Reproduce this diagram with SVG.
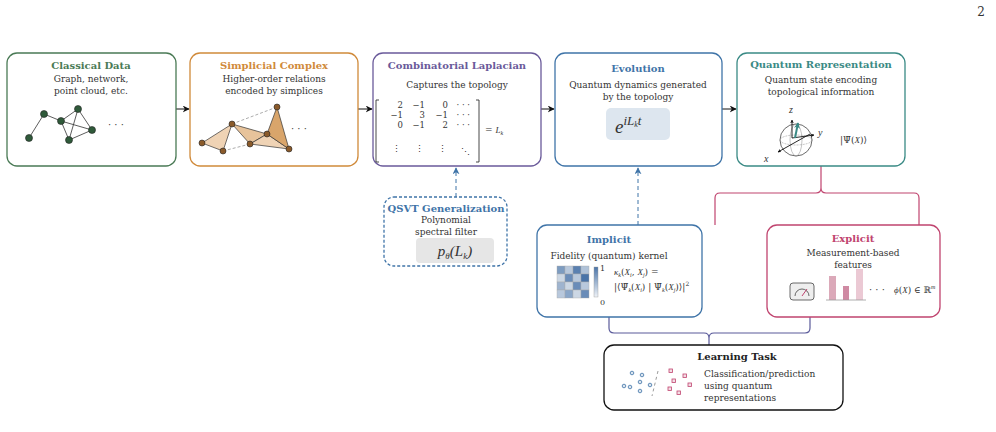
<svg xmlns="http://www.w3.org/2000/svg" width="996" height="432" viewBox="0 0 996 432">
<style>
text{font-family:"DejaVu Serif","Liberation Serif",serif;fill:#333}
.t{font-weight:bold;font-size:10px;text-anchor:middle}
.b{font-size:9px;text-anchor:middle}
.m{font-family:"Liberation Serif",serif;font-style:italic}
.box{fill:#fff;stroke-width:1.3}
</style>
<defs>
<marker id="ar" viewBox="0 0 10 10" refX="9" refY="5" markerWidth="7" markerHeight="7" orient="auto"><path d="M0,0L10,5L0,10L3,5z" fill="#111"/></marker>
<marker id="as" viewBox="0 0 10 10" refX="9" refY="5" markerWidth="4" markerHeight="4" orient="auto"><path d="M0,0L10,5L0,10L3,5z" fill="#111"/></marker>
<marker id="at" viewBox="0 0 10 10" refX="9" refY="5" markerWidth="3" markerHeight="3" orient="auto"><path d="M0,0L10,5L0,10L3,5z" fill="#3a8a85"/></marker>
<marker id="ab" viewBox="0 0 10 10" refX="9" refY="5" markerWidth="7" markerHeight="7" orient="auto"><path d="M0,0L10,5L0,10L3,5z" fill="#3f74a8"/></marker>
<linearGradient id="cb" x1="0" y1="0" x2="0" y2="1"><stop offset="0" stop-color="#4a74a8"/><stop offset="1" stop-color="#eef2f7"/></linearGradient>
</defs>
<text x="985" y="16" style="font-size:12px" text-anchor="end">2</text>
<g id="connectors" fill="none">
<line x1="176" y1="109" x2="189" y2="109" stroke="#111" marker-end="url(#ar)"/>
<line x1="358" y1="109" x2="372" y2="109" stroke="#111" marker-end="url(#ar)"/>
<line x1="541" y1="109" x2="554" y2="109" stroke="#111" marker-end="url(#ar)"/>
<line x1="722" y1="109" x2="736" y2="109" stroke="#111" marker-end="url(#ar)"/>
<line x1="456" y1="197" x2="456" y2="168" stroke="#3f74a8" stroke-dasharray="4,3" marker-end="url(#ab)"/>
<line x1="638" y1="225" x2="638" y2="168" stroke="#3f74a8" stroke-dasharray="4,3" marker-end="url(#ab)"/>
<path d="M821,166V188q0,5 -5,5H720q-5,0 -5,5V225M821,188q0,5 5,5H914q5,0 5,5V225" stroke="#c0446f" stroke-width="1.2"/>
<path d="M609,317V328q0,5 5,5H704q5,0 5,5V345M709,338q0,-5 5,-5H805q5,0 5,-5V317" stroke="#5a5a9a" stroke-width="1.2"/>
</g>
<g id="classical">
<rect class="box" x="7" y="53" width="169" height="113" rx="10" stroke="#4a7a55"/>
<text class="t" x="91" y="69" style="fill:#4a7a55">Classical Data</text>
<text class="b" x="91" y="82">Graph, network,</text>
<text class="b" x="91" y="94">point cloud, etc.</text>
<path d="M29,138L44,114L61,121L78,109L92,130L69,140L61,121L92,130M78,109L69,140" fill="none" stroke="#333" stroke-width="0.8"/>
<g fill="#2f5a3a" stroke="#222" stroke-width="0.6"><circle cx="29" cy="138" r="3.5"/><circle cx="44" cy="114" r="3.5"/><circle cx="61" cy="121" r="3.5"/><circle cx="78" cy="109" r="3.5"/><circle cx="92" cy="130" r="3.5"/><circle cx="69" cy="140" r="3.5"/></g>
<text x="108" y="128" style="font-size:10px">· · ·</text>
</g>
<g id="simplicial">
<rect class="box" x="190" y="53" width="168" height="113" rx="10" stroke="#d08a3a"/>
<text class="t" x="274" y="69" style="fill:#d08a3a">Simplicial Complex</text>
<text class="b" x="274" y="82">Higher-order relations</text>
<text class="b" x="274" y="94">encoded by simplices</text>
<path d="M202,143L232,124L223,151z" fill="#efd3b5" stroke="#333" stroke-width="0.7"/>
<path d="M232,124L267,134L250,144z" fill="#e7c39b" stroke="#333" stroke-width="0.7"/>
<path d="M250,144L267,134L289,149z" fill="#efd3b5" stroke="#333" stroke-width="0.7"/>
<path d="M267,134L277,107L289,149z" fill="#d9a56b" stroke="#333" stroke-width="0.7"/>
<path d="M232,124L277,107M223,151L250,144" stroke="#888" stroke-dasharray="3,2" stroke-width="0.7" fill="none"/>
<g fill="#8a5a2a" stroke="#222" stroke-width="0.6"><circle cx="202" cy="143" r="3"/><circle cx="232" cy="124" r="3"/><circle cx="223" cy="151" r="3"/><circle cx="250" cy="144" r="3"/><circle cx="267" cy="134" r="3"/><circle cx="277" cy="107" r="3"/><circle cx="289" cy="149" r="3"/></g>
<text x="291" y="132" style="font-size:10px">· · ·</text>
</g>
<g id="laplacian">
<rect class="box" x="373" y="53" width="168" height="113" rx="10" stroke="#6a5a9a"/>
<text class="t" x="457" y="69" style="fill:#6a5a9a">Combinatorial Laplacian</text>
<text class="b" x="457" y="88">Captures the topology</text>
<path d="M379,100h-3v62h3M476,100h3v62h-3" fill="none" stroke="#333" stroke-width="0.9"/>
<g style="font-size:8.5px" text-anchor="end">
<text x="403" y="108">2</text><text x="425" y="108">−1</text><text x="448" y="108">0</text><text x="470" y="108">· · ·</text>
<text x="403" y="118">−1</text><text x="425" y="118">3</text><text x="448" y="118">−1</text><text x="470" y="118">· · ·</text>
<text x="403" y="128">0</text><text x="425" y="128">−1</text><text x="448" y="128">2</text><text x="470" y="128">· · ·</text>
<text x="401" y="152">⋮</text><text x="424" y="152">⋮</text><text x="447" y="152">⋮</text><text x="470" y="155">⋱</text>
</g>
<text x="485" y="133" style="font-size:9px">= <tspan class="m">L</tspan><tspan class="m" style="font-size:6px" dy="2">k</tspan></text>
</g>
<g id="evolution">
<rect class="box" x="555" y="53" width="167" height="113" rx="10" stroke="#3f74a8"/>
<text class="t" x="638" y="72" style="fill:#3f74a8">Evolution</text>
<text class="b" x="638" y="88">Quantum dynamics generated</text>
<text class="b" x="638" y="100">by the topology</text>
<rect x="606" y="108" width="64" height="32" rx="5" fill="#dde6ef"/>
<text x="615" y="133" class="m" style="font-size:19px">e<tspan style="font-size:13px" dy="-8">iL</tspan><tspan style="font-size:8px" dy="2">k</tspan><tspan style="font-size:13px" dy="-2">t</tspan></text>
</g>
<g id="quantum">
<rect class="box" x="737" y="53" width="168" height="113" rx="10" stroke="#3a8a85"/>
<text class="t" x="821" y="68" style="fill:#3a8a85">Quantum Representation</text>
<text class="b" x="821" y="83">Quantum state encoding</text>
<text class="b" x="821" y="95">topological information</text>
<circle cx="796" cy="140" r="16" fill="none" stroke="#444" stroke-width="0.8"/>
<ellipse cx="796" cy="140" rx="16" ry="5" fill="none" stroke="#888" stroke-width="0.5" stroke-dasharray="2,1"/>
<ellipse cx="796" cy="140" rx="6" ry="16" fill="none" stroke="#888" stroke-width="0.5"/>
<g stroke="#111" stroke-width="0.9" fill="none"><line x1="792" y1="138" x2="792" y2="120" marker-end="url(#as)"/><line x1="792" y1="138" x2="814" y2="135" marker-end="url(#as)"/><line x1="810" y1="134" x2="778" y2="152" marker-end="url(#as)"/></g>
<line x1="795" y1="138" x2="798" y2="123" stroke="#3a8a85" stroke-width="2" marker-end="url(#at)"/>
<text x="789" y="113" class="m" style="font-size:10px">z</text>
<text x="818" y="136" class="m" style="font-size:10px">y</text>
<text x="764" y="162" class="m" style="font-size:10px">x</text>
<text x="840" y="143" style="font-size:9px">|Ψ̄(<tspan class="m">X</tspan>)⟩</text>
</g>
<g id="qsvt">
<rect class="box" x="384" y="197" width="123" height="69" rx="10" stroke="#3f74a8" stroke-dasharray="3,2"/>
<text class="t" x="446" y="212" style="fill:#3f74a8">QSVT Generalization</text>
<text class="b" x="446" y="223">Polynomial</text>
<text class="b" x="446" y="235">spectral filter</text>
<rect x="416" y="238" width="78" height="25" rx="4" fill="#e6e6e6"/>
<text x="455" y="256" text-anchor="middle" class="m" style="font-size:15px">p<tspan style="font-size:9px" dy="3">θ</tspan><tspan dy="-3">(L</tspan><tspan style="font-size:9px" dy="3">k</tspan><tspan dy="-3">)</tspan></text>
</g>
<g id="implicit">
<rect class="box" x="537" y="225" width="165" height="92" rx="10" stroke="#3f74a8"/>
<text class="t" x="609" y="243" style="fill:#3f74a8">Implicit</text>
<text class="b" x="609" y="259">Fidelity (quantum) kernel</text>
<g stroke="#aaa" stroke-width="0.4">
<rect x="557" y="266" width="8" height="8" fill="#7d9cc0"/><rect x="565" y="266" width="8" height="8" fill="#b8c8dc"/><rect x="573" y="266" width="8" height="8" fill="#5a80b0"/><rect x="581" y="266" width="8" height="8" fill="#b0c2d8"/>
<rect x="557" y="274" width="8" height="8" fill="#ccd7e4"/><rect x="565" y="274" width="8" height="8" fill="#6a8cb8"/><rect x="573" y="274" width="8" height="8" fill="#b8c8dc"/><rect x="581" y="274" width="8" height="8" fill="#4a74a8"/>
<rect x="557" y="282" width="8" height="8" fill="#9fb4cf"/><rect x="565" y="282" width="8" height="8" fill="#ccd7e4"/><rect x="573" y="282" width="8" height="8" fill="#6a8cb8"/><rect x="581" y="282" width="8" height="8" fill="#b8c8dc"/>
<rect x="557" y="290" width="8" height="8" fill="#b8c8dc"/><rect x="565" y="290" width="8" height="8" fill="#8aa6c8"/><rect x="573" y="290" width="8" height="8" fill="#ccd7e4"/><rect x="581" y="290" width="8" height="8" fill="#6a8cb8"/>
</g>
<rect x="594" y="267" width="4" height="30" fill="url(#cb)" stroke="#999" stroke-width="0.4"/>
<text x="600" y="271" style="font-size:8px">1</text><text x="600" y="305" style="font-size:8px">0</text>
<text x="614" y="275" style="font-size:9px"><tspan class="m">κ</tspan><tspan class="m" style="font-size:6px" dy="2">k</tspan><tspan dy="-2">(</tspan><tspan class="m">X</tspan><tspan class="m" style="font-size:6px" dy="2">i</tspan><tspan dy="-2">, </tspan><tspan class="m">X</tspan><tspan class="m" style="font-size:6px" dy="2">j</tspan><tspan dy="-2">)   =</tspan></text>
<text x="614" y="290" style="font-size:9px">|⟨Ψ̄<tspan class="m" style="font-size:6px" dy="2">k</tspan><tspan dy="-2">(</tspan><tspan class="m">X</tspan><tspan class="m" style="font-size:6px" dy="2">i</tspan><tspan dy="-2">) | Ψ̄</tspan><tspan class="m" style="font-size:6px" dy="2">k</tspan><tspan dy="-2">(</tspan><tspan class="m">X</tspan><tspan class="m" style="font-size:6px" dy="2">j</tspan><tspan dy="-2">)⟩|</tspan><tspan style="font-size:6px" dy="-4">2</tspan></text>
</g>
<g id="explicit">
<rect class="box" x="767" y="225" width="173" height="92" rx="10" stroke="#c0446f"/>
<text class="t" x="853" y="242" style="fill:#c0446f">Explicit</text>
<text class="b" x="853" y="256">Measurement-based</text>
<text class="b" x="853" y="268">features</text>
<rect x="790" y="283" width="24" height="17" rx="3" fill="#eee" stroke="#444" stroke-width="0.8"/>
<path d="M795,296a7,7 0 0 1 14,0" fill="none" stroke="#444" stroke-width="0.8"/>
<line x1="802" y1="296" x2="807" y2="289" stroke="#c0446f" stroke-width="1"/>
<rect x="829" y="276" width="7" height="24" fill="#dba9b9"/>
<rect x="843" y="286" width="6" height="14" fill="#cf8aa3"/>
<rect x="856" y="269" width="7" height="31" fill="#ebc9d4"/>
<line x1="826" y1="300" x2="866" y2="300" stroke="#999" stroke-width="0.8"/>
<text x="869" y="293" style="font-size:10px">· · ·</text>
<text x="894" y="293" style="font-size:9px"><tspan class="m">ϕ</tspan>(<tspan class="m">X</tspan>) ∈ ℝ<tspan class="m" style="font-size:6px" dy="-4">m</tspan></text>
</g>
<g id="learning">
<rect class="box" x="604" y="345" width="239" height="65" rx="10" stroke="#111"/>
<text class="t" x="737" y="360" style="fill:#222">Learning Task</text>
<text x="704" y="377" style="font-size:9px">Classification/prediction</text>
<text x="704" y="389" style="font-size:9px">using quantum</text>
<text x="704" y="401" style="font-size:9px">representations</text>
<g fill="#dde6ef" stroke="#3f74a8" stroke-width="0.8"><circle cx="632" cy="373" r="1.8"/><circle cx="642" cy="375" r="1.8"/><circle cx="640" cy="382" r="1.8"/><circle cx="630" cy="387" r="1.8"/><circle cx="650" cy="385" r="1.8"/><circle cx="640" cy="391" r="1.8"/><circle cx="624" cy="386" r="1.8"/></g>
<line x1="638" y1="371" x2="632" y2="396" stroke="#555" stroke-width="0.6" stroke-dasharray="3,3" transform="translate(20,0)"/>
<g fill="#f3dde4" stroke="#c0446f" stroke-width="0.8"><rect x="649" y="369" width="3.5" height="3.5" transform="translate(20,0)"/><rect x="663" y="374" width="3.5" height="3.5" transform="translate(20,0)"/><rect x="652" y="379" width="3.5" height="3.5" transform="translate(20,0)"/><rect x="668" y="383" width="3.5" height="3.5" transform="translate(20,0)"/><rect x="648" y="387" width="3.5" height="3.5" transform="translate(20,0)"/><rect x="657" y="391" width="3.5" height="3.5" transform="translate(20,0)"/></g>
</g>
</svg>
